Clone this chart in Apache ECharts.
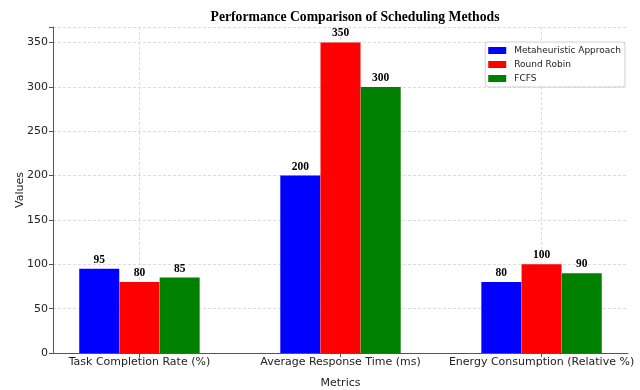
<!DOCTYPE html>
<html>
<head>
<meta charset="utf-8">
<script src="https://cdn.jsdelivr.net/npm/echarts@6/dist/echarts.min.js"></script>
<style>
  html, body { margin: 0; padding: 0; background: #fff; }
  #main { width: 640px; height: 390px; }
</style>
</head>
<body>
<div id="main"></div>
<script>
// chart data
var categories = ['Task Completion Rate (%)', 'Average Response Time (ms)', 'Energy Consumption (Relative %)'];
var seriesNames = ['Metaheuristic Approach', 'Round Robin', 'FCFS'];
var metaheuristic = [95, 200, 80];
var roundRobin = [80, 350, 100];
var fcfs = [85, 300, 90];
var colors = ['#0000ff', '#ff0000', '#008000'];
var yTicks = [0, 50, 100, 150, 200, 250, 300, 350];

var allValues = [metaheuristic, roundRobin, fcfs];
var offsets = [-0.2, 0, 0.2];

var chart = echarts.init(document.getElementById('main'), null, { renderer: 'canvas' });

function buildSeries() {
  return allValues.map(function (vals, s) {
    return {
      name: seriesNames[s],
      type: 'bar',
      barWidth: 40,
      barGap: '-100%',
      itemStyle: { color: colors[s] },
      label: {
        show: true,
        position: 'top',
        distance: 3,
        fontFamily: 'Liberation Serif',
        fontWeight: 'bold',
        fontSize: 11.5,
        color: '#000'
      },
      data: vals.map(function (v, i) { return [i + offsets[s], v]; })
    };
  });
}

var option = {
  backgroundColor: '#fff',
  animation: false,
  title: {
    text: 'Performance Comparison of Scheduling Methods',
    left: 350,
    textAlign: 'center',
    top: 5,
    textStyle: {
      fontFamily: 'Liberation Serif',
      fontWeight: 'bold',
      fontSize: 13.7,
      color: '#000'
    }
  },
  legend: {
    orient: 'vertical',
    right: 15,
    top: 42,
    itemWidth: 18,
    itemHeight: 7,
    itemGap: 5,
    icon: 'rect',
    padding: [4, 4, 4, 3],
    backgroundColor: '#fff',
    borderColor: '#d0d0d0',
    borderWidth: 1,
    borderRadius: 3,
    textStyle: { fontFamily: 'DejaVu Sans', fontSize: 9, color: '#222', padding: [0, 0, 0, 3] },
    data: seriesNames
  },
  grid: { left: 53, right: 12, top: 27, bottom: 37, containLabel: false, outerBoundsMode: 'none' },
  xAxis: {
    type: 'value',
    min: -0.43,
    max: 2.43,
    name: 'Metrics',
    nameLocation: 'middle',
    nameGap: 25,
    nameMoveOverlap: false,
    nameTextStyle: { fontFamily: 'DejaVu Sans', fontSize: 11, color: '#222' },
    axisLine: { show: true, onZero: false, lineStyle: { color: '#555', width: 1 } },
    axisTick: { show: true, length: 4, customValues: [0, 1, 2], lineStyle: { color: '#555' } },
    axisLabel: {
      customValues: [0, 1, 2],
      fontFamily: 'DejaVu Sans',
      fontSize: 11,
      color: '#222',
      margin: 4,
      formatter: function (v) { return categories[Math.round(v)]; }
    },
    splitLine: { show: true, lineStyle: { color: '#dcdcdc', type: [3, 2] } }
  },
  yAxis: {
    type: 'value',
    min: 0,
    max: 367.5,
    interval: 50,
    name: 'Values',
    nameLocation: 'middle',
    nameGap: 27,
    nameMoveOverlap: false,
    nameTextStyle: { fontFamily: 'DejaVu Sans', fontSize: 11, color: '#222' },
    axisLine: { show: true, onZero: false, lineStyle: { color: '#555', width: 1 } },
    axisTick: { show: true, length: 4, lineStyle: { color: '#555' } },
    axisLabel: {
      fontFamily: 'DejaVu Sans',
      fontSize: 11,
      color: '#222',
      margin: 5,
      formatter: function (v) { return yTicks.indexOf(v) >= 0 ? String(v) : ''; }
    },
    splitLine: { show: true, lineStyle: { color: '#dcdcdc', type: [3, 2] } }
  },
  series: buildSeries()
};

chart.setOption(option);
</script>
</body>
</html>
